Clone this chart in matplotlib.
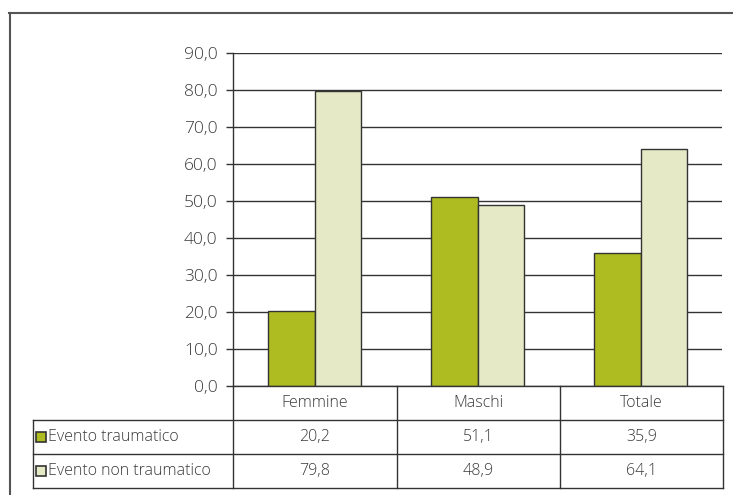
import matplotlib.pyplot as plt
from matplotlib.lines import Line2D
from matplotlib.patches import Rectangle
import numpy as np

# dati
categorie = ['Femmine', 'Maschi', 'Totale']
serie = ['Evento traumatico', 'Evento non traumatico']
traumatico = [20.2, 51.1, 35.9]
non_traumatico = [79.8, 48.9, 64.1]
colori = ['#AEBB21', '#E6E9C5']
yticks = [0, 10, 20, 30, 40, 50, 60, 70, 80, 90]

plt.rcParams['font.family'] = ['Open Sans', 'DejaVu Sans']
plt.rcParams['font.weight'] = 'light'
W, H = 733, 495
fig = plt.figure(figsize=(W / 100, H / 100), dpi=100)

def fx(px):
    return px / W

def fy(py):
    return 1 - py / H

ax_l, ax_r, ax_t, ax_b = 233, 722, 53, 386
ax = fig.add_axes([fx(ax_l), fy(ax_b), fx(ax_r) - fx(ax_l), fy(ax_t) - fy(ax_b)])

x = np.arange(len(categorie))
w = 0.287
valori = [traumatico, non_traumatico]
for i, (vals, c) in enumerate(zip(valori, colori)):
    ax.bar(x + (i - 0.5) * w, vals, width=w, color=c, edgecolor='#333333',
           linewidth=1.0, zorder=3)

txt = '#3a3a3a'
ax.set_xlim(-0.5, len(categorie) - 0.5)
ax.set_ylim(0, 90)
ax.set_yticks(yticks)
ax.set_yticklabels([f'{v:.1f}'.replace('.', ',') for v in yticks],
                   fontsize=12.5, color=txt)
ax.set_xticks([])
ax.tick_params(axis='y', length=5, width=1, color='#333333', pad=6)
ax.grid(axis='y', color='#333333', linewidth=1, zorder=0)
for s in ['top', 'right', 'bottom']:
    ax.spines[s].set_visible(False)
ax.spines['left'].set_color('#333333')
ax.spines['left'].set_linewidth(1)

# cornice esterna
lc = '#555555'
fig.add_artist(Line2D([fx(9.5), fx(9.5)], [fy(13), 0], color=lc, lw=1.5))
fig.add_artist(Line2D([fx(9), 1], [fy(13), fy(13)], color=lc, lw=1.5))

# tabella dati
tc = '#333333'
col_x = [ax_l, 397, 560, 723]
row_y = [386, 420, 454, 488]
lab_x = 33
fs = 11.5
# linee orizzontali
fig.add_artist(Line2D([fx(ax_l), fx(col_x[-1])], [fy(row_y[0]), fy(row_y[0])], color=tc, lw=1))
for ry in row_y[1:]:
    fig.add_artist(Line2D([fx(lab_x), fx(col_x[-1])], [fy(ry), fy(ry)], color=tc, lw=1))
# linee verticali
for cx in col_x:
    fig.add_artist(Line2D([fx(cx), fx(cx)], [fy(row_y[0]), fy(row_y[-1])], color=tc, lw=1))
fig.add_artist(Line2D([fx(lab_x), fx(lab_x)], [fy(row_y[1]), fy(row_y[-1])], color=tc, lw=1))

for j, cat in enumerate(categorie):
    cx = (col_x[j] + col_x[j + 1]) / 2
    fig.text(fx(cx), fy((row_y[0] + row_y[1]) / 2), cat, ha='center', va='center',
             fontsize=fs, color=txt)
    for i, vals in enumerate(valori):
        fig.text(fx(cx), fy((row_y[i + 1] + row_y[i + 2]) / 2),
                 f'{vals[j]:.1f}'.replace('.', ','), ha='center', va='center',
                 fontsize=fs, color=txt)

for i, (nome, c) in enumerate(zip(serie, colori)):
    cy = (row_y[i + 1] + row_y[i + 2]) / 2
    fig.add_artist(Rectangle((fx(36), fy(cy + 5)), fx(10), fy(0) - fy(10),
                             facecolor=c, edgecolor='#333333', lw=1.2))
    fig.text(fx(48), fy(cy), nome, ha='left', va='center',
             fontsize=fs, color=txt)

fig.savefig('out.png', dpi=100)
